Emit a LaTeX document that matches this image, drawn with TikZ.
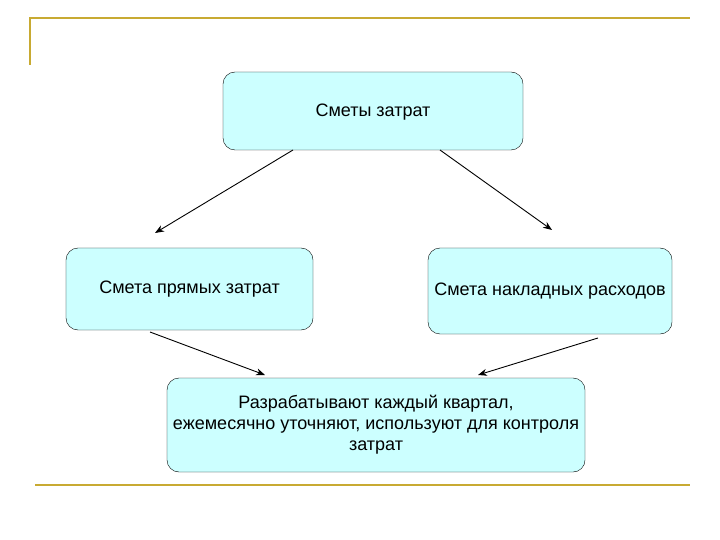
\documentclass[tikz,border=0pt]{standalone}
\usepackage{fontspec}
\setmainfont{Liberation Sans}
\usetikzlibrary{arrows.meta}
\begin{document}
\begin{tikzpicture}[x=1bp,y=-1bp,
  box/.style={draw=black,fill={rgb,255:red,204;green,255;blue,255},rounded corners=12bp,inner sep=0pt,font=\fontsize{18bp}{21bp}\selectfont,align=center},
  arr/.style={-{Stealth[length=9bp,width=7bp]},line width=0.9bp},
  deco/.style={draw={rgb,255:red,200;green,170;blue,50},line width=1.8bp}]
\useasboundingbox (0,0) rectangle (720,540);
\draw[deco] (30,65) -- (30,18) -- (690,18);
\draw[deco] (35,485) -- (690,485);
\node[box,minimum width=300bp,minimum height=78bp] (top) at (373,111) {\raisebox{-14bp}{Сметы затрат}};
\node[box,minimum width=247bp,minimum height=82bp] (left) at (189.5,289) {\raisebox{-1bp}{Смета прямых затрат}};
\node[box,minimum width=244bp,minimum height=86bp] (right) at (550,291) {\raisebox{-5bp}{Смета накладных расходов}};
\node[box,minimum width=418bp,minimum height=94bp] (bot) at (376,425) {Разрабатывают каждый квартал,\\ежемесячно уточняют, используют для контроля\\затрат};
\coordinate (t1) at (293,150); \coordinate (t2) at (440,150);
\coordinate (e1) at (155,233); \coordinate (e2) at (552,230);
\coordinate (l1) at (150,332); \coordinate (r1) at (598,338);
\coordinate (b1) at (265,375); \coordinate (b2) at (478,375);
\draw[arr] (t1) -- (e1);
\draw[arr] (t2) -- (e2);
\draw[arr] (l1) -- (b1);
\draw[arr] (r1) -- (b2);
\end{tikzpicture}
\end{document}
